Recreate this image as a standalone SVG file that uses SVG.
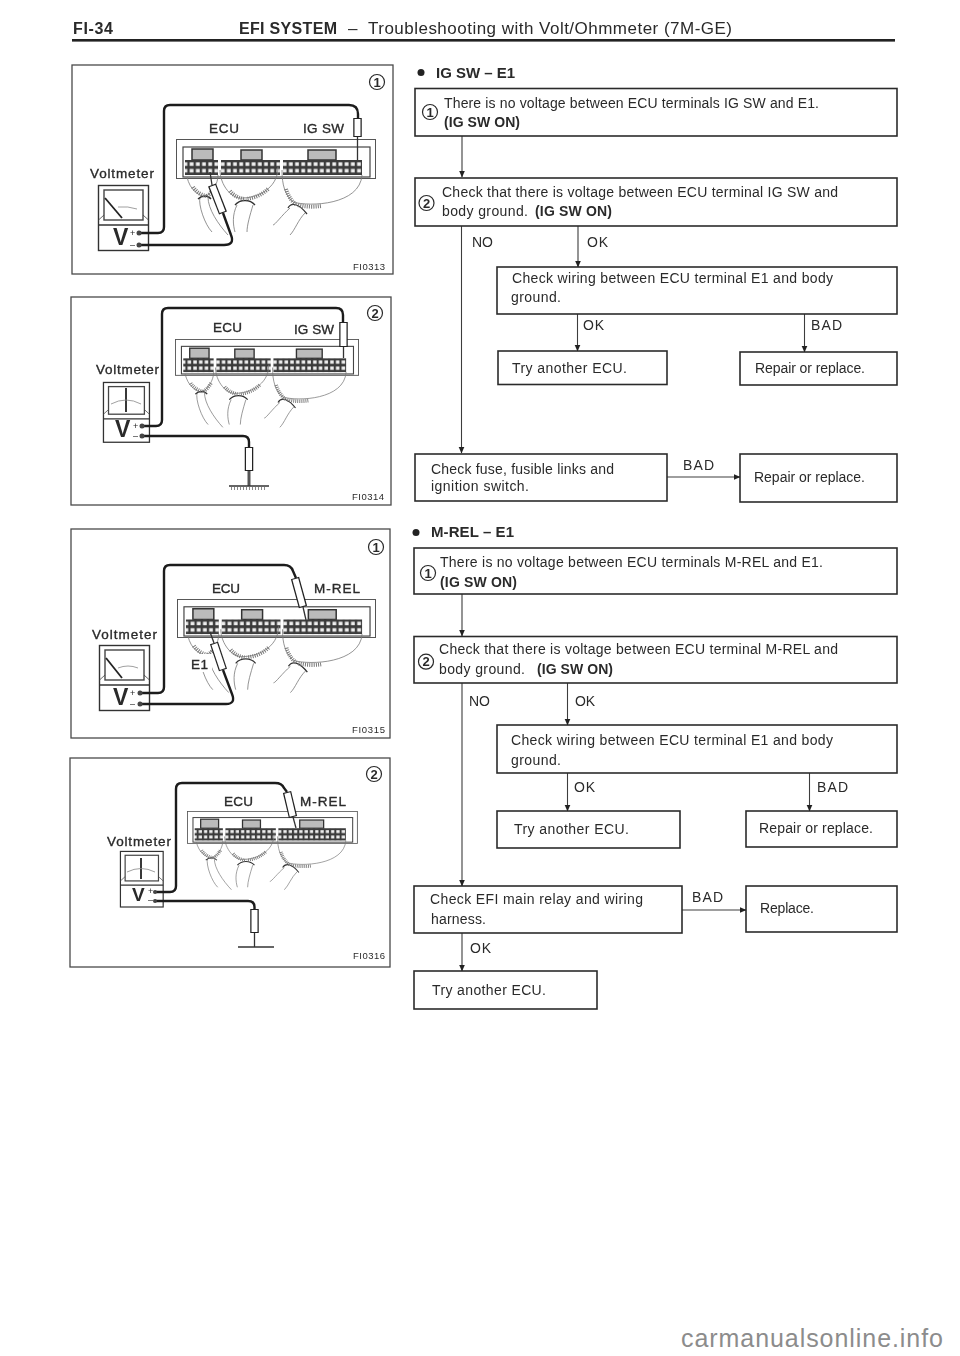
<svg xmlns="http://www.w3.org/2000/svg" xmlns:xlink="http://www.w3.org/1999/xlink" width="960" height="1356" viewBox="0 0 960 1356">
<style>
text{font-family:"Liberation Sans",Arial,sans-serif;fill:#2a2a2a}
.t{font-size:14px}
.b{font-size:14px;font-weight:bold}
.h{font-size:15px;font-weight:bold}
.hh{font-size:16px;font-weight:bold}
.hr{font-size:17px}
.l{font-size:13.5px;stroke:#2a2a2a;stroke-width:.35px}
.v{font-size:23px;font-weight:bold}
.c{font-size:9px}
.f{font-size:9.5px}
.d{font-size:13px;font-weight:bold;text-anchor:middle}
.box{fill:#fff;stroke:#2a2a2a;stroke-width:1.6}
.frame{fill:#fff;stroke:#4a4a4a;stroke-width:1.3}
.circ{fill:#fff;stroke:#2a2a2a;stroke-width:1.2}
.edge{fill:none;stroke:#3c3c3c;stroke-width:1.1;marker-end:url(#ah)}
.wire{fill:none;stroke:#1c1c1c;stroke-width:2.4}
.thin{fill:none;stroke:#333;stroke-width:1.3}
.po{fill:none;stroke:#222;stroke-width:8.5}
.pi{fill:none;stroke:#fff;stroke-width:6}
.hs{fill:none;stroke:#777;stroke-width:.8}
.fan{fill:none;stroke:#777;stroke-width:4;stroke-dasharray:1 1.2}
.gr{stroke:#333;stroke-width:1.3}
.gh{stroke:#888;stroke-width:3;stroke-dasharray:1 2}
</style>
<defs>
<filter id="soft" filterUnits="userSpaceOnUse" x="0" y="0" width="960" height="1356"><feGaussianBlur stdDeviation=".3"/></filter>
<marker id="ah" markerUnits="userSpaceOnUse" markerWidth="7" markerHeight="7" refX="6.500" refY="3" orient="auto"><path d="M0 0L7 3L0 6Z" fill="#222"/></marker>
<pattern id="pins" patternUnits="userSpaceOnUse" x="0" y="22" width="6.2" height="6.6"><rect width="6.2" height="6.6" fill="#3a3a3a"/><rect x="1.3" y="1.3" width="3.8" height="3.6" fill="#eee"/></pattern>
<g id="ecu">
<rect x=".5" y=".5" width="199" height="39" fill="#fff" stroke="#555" stroke-width="1"/>
<rect x="7" y="8" width="187" height="30" fill="#fff" stroke="#444" stroke-width="1.2"/>
<rect x="16" y="10" width="21" height="11" fill="#bbb" stroke="#333" stroke-width="1.5"/>
<rect x="65" y="11" width="21" height="10" fill="#bbb" stroke="#333" stroke-width="1.5"/>
<rect x="132" y="11" width="28" height="10" fill="#bbb" stroke="#333" stroke-width="1.5"/>
<rect x="9" y="21" width="33" height="15" fill="url(#pins)"/>
<rect x="45" y="21" width="59" height="15" fill="url(#pins)"/>
<rect x="107" y="21" width="79" height="15" fill="url(#pins)"/>
<path class="hs" d="M11 38C14 51 22 56 29 58M42 36C42 45 36 54 29 58M24 58C22 66 29 86 36 93M32 58C32 70 42 85 52 96"/>
<path class="hs" d="M44 31C44 46 56 61 67 59C79 59 102 51 102 28M61 66C56 76 57 86 59 93M77 66C74 76 71 86 71 93"/>
<path class="hs" d="M106 31C106 46 109 56 117 63C134 68 184 66 186 36M114 69C106 76 99 86 97 86M129 74C122 81 119 91 114 96"/>
<path class="thin" d="M22 60C26 56 32 56 35 60M59 66C64 60 74 60 79 66M112 69C116 62 124 66 131 75"/>
<path class="fan" d="M17 48C21 54 26 56 30 57M39 48C37 52 34 55 31 57M54 52C58 57 63 59 68 60M92 50C86 56 78 59 70 60M110 50C112 57 116 63 121 66M122 66C130 68 138 68 145 67"/>
</g>
<g id="vm">
<rect x=".5" y=".5" width="50" height="65" fill="#fff" stroke="#333" stroke-width="1.4"/>
<rect x="6" y="5" width="39" height="30" fill="#fff" stroke="#444" stroke-width="1.4"/>
<path d="M.5 35L6 30M50.5 35L45 30" stroke="#444" stroke-width=".8"/>
<path d="M.5 40H50.5" stroke="#333" stroke-width="1.4"/>
</g>
</defs>
<rect width="960" height="1356" fill="#fff"/>
<g filter="url(#soft)">

<g id="header">
<rect x="72" y="39" width="823" height="2.6" fill="#222"/>
<text class="hh" x="73" y="33.5" textLength="40">FI-34</text>
<text class="hh" x="239" y="34" textLength="98">EFI SYSTEM</text>
<text class="hr" x="348" y="34" textLength="10">–</text>
<text class="hr" x="368" y="34" textLength="364">Troubleshooting with Volt/Ohmmeter (7M-GE)</text>
</g>

<g id="panel-1">
<rect class="frame" x="72" y="65" width="321" height="209"/>
<circle class="circ" cx="377" cy="82" r="7.5"/><text class="d" x="377" y="86.700">1</text>
<use xlink:href="#ecu" href="#ecu" transform="translate(176 139)"/>
<use xlink:href="#vm" href="#vm" transform="translate(98 185)"/>
<path d="M105 198L122 218" stroke="#222" stroke-width="1.8"/>
<path d="M118 207Q128 206 137 209" fill="none" stroke="#888" stroke-width=".8"/>
<path class="wire" d="M139 233H158Q164 233 164 227V111Q164 105 170 105H349Q358 105 358 114V118"/>
<path class="thin" d="M357.500 137V160"/>
<path class="po" d="M357.500 118V137"/><path class="pi" d="M357.500 119V136"/>
<path class="wire" d="M139 245H224Q235 245 231 235L223 213"/>
<path class="thin" d="M212 185L210 172"/>
<path class="po" d="M223 213L212 185"/><path class="pi" d="M222.500 212L212.500 186"/>
<circle cx="139" cy="233" r="2.500" fill="#444"/><circle cx="139" cy="245" r="2.500" fill="#444"/>
<text class="l" x="90" y="178" textLength="64">Voltmeter</text>
<text class="l" x="209" y="133" textLength="30">ECU</text>
<text class="l" x="303" y="133" textLength="41">IG SW</text>
<text class="v" x="113" y="245" textLength="15">V</text>
<text class="c" x="130" y="236">+</text><text class="c" x="130" y="248">–</text>
<text class="f" x="353" y="270" textLength="32">FI0313</text>
</g>

<g id="panel-2">
<rect class="frame" x="71" y="297" width="320" height="208"/>
<circle class="circ" cx="375" cy="313" r="7.5"/><text class="d" x="375" y="317.700">2</text>
<use xlink:href="#ecu" href="#ecu" transform="translate(175 339) scale(.92)"/>
<use xlink:href="#vm" href="#vm" transform="translate(103 382) scale(.92)"/>
<path d="M126 388V412" stroke="#222" stroke-width="1.800"/>
<path d="M111 404Q126 396 141 404" fill="none" stroke="#888" stroke-width=".8"/>
<path class="wire" d="M142 426H156Q162 426 162 420V314Q162 308 168 308H336Q343 308 343 315V322"/>
<path class="thin" d="M343.500 347V358"/>
<path class="po" d="M343.500 322V347"/><path class="pi" d="M343.500 323V346"/>
<path class="wire" d="M142 436H243Q249 436 249 442V447"/>
<path d="M249 471V486" stroke="#555" stroke-width="3"/>
<path class="po" d="M249 447V471"/><path class="pi" d="M249 448V470"/>
<path class="gr" d="M229 486H269"/><path class="gh" d="M231 488.500H267"/>
<circle cx="142" cy="426" r="2.500" fill="#444"/><circle cx="142" cy="436" r="2.500" fill="#444"/>
<text class="l" x="96" y="374" textLength="63">Voltmeter</text>
<text class="l" x="213" y="332" textLength="29">ECU</text>
<text class="l" x="294" y="334" textLength="40">IG SW</text>
<text class="v" x="115" y="437" textLength="14">V</text>
<text class="c" x="133" y="429">+</text><text class="c" x="133" y="439">–</text>
<text class="f" x="352" y="500" textLength="32">FI0314</text>
</g>

<g id="panel-3">
<rect class="frame" x="71" y="529" width="319" height="209"/>
<circle class="circ" cx="376" cy="547" r="7.5"/><text class="d" x="376" y="551.700">1</text>
<use xlink:href="#ecu" href="#ecu" transform="translate(177 599) scale(.995 .975)"/>
<use xlink:href="#vm" href="#vm" transform="translate(99 645)"/>
<path d="M106 658L122 678" stroke="#222" stroke-width="1.800"/>
<path d="M118 668Q128 664 138 668" fill="none" stroke="#888" stroke-width=".8"/>
<rect x="188" y="654" width="24" height="18" fill="#fff"/>
<path class="wire" d="M140 693H158Q164 693 164 687V571Q164 565 170 565H284Q291 565 293 571L296 578"/>
<path class="thin" d="M303 607L306 620"/>
<path class="po" d="M295 578L303 607"/><path class="pi" d="M295.300 579L302.700 606"/>
<path class="wire" d="M140 704H226Q236 704 232 694L223 670"/>
<path class="thin" d="M214 643L210 632"/>
<path class="po" d="M223 670L214 643"/><path class="pi" d="M222.700 669L214.300 644"/>
<circle cx="140" cy="693" r="2.500" fill="#444"/><circle cx="140" cy="704" r="2.500" fill="#444"/>
<text class="l" x="92" y="639" textLength="65">Voltmeter</text>
<text class="l" x="212" y="593" textLength="28">ECU</text>
<text class="l" x="314" y="593" textLength="46">M-REL</text>
<text class="l" x="191" y="669" textLength="17">E1</text>
<text class="v" x="113" y="705" textLength="15">V</text>
<text class="c" x="130" y="696">+</text><text class="c" x="130" y="707">–</text>
<text class="f" x="352" y="733" textLength="33">FI0315</text>
</g>

<g id="panel-4">
<rect class="frame" x="70" y="758" width="320" height="209"/>
<circle class="circ" cx="374" cy="774" r="7.5"/><text class="d" x="374" y="778.700">2</text>
<use xlink:href="#ecu" href="#ecu" transform="translate(187 811) scale(.854 .82)"/>
<use xlink:href="#vm" href="#vm" transform="translate(120 851) scale(.855)"/>
<path d="M141 858V879" stroke="#222" stroke-width="1.800"/>
<path d="M127 872Q141 865 155 872" fill="none" stroke="#888" stroke-width=".8"/>
<path class="wire" d="M155 892H170Q176 892 176 886V789Q176 783 182 783H275Q282 783 284 788L287 792"/>
<path class="thin" d="M293 817L296 828"/>
<path class="po" d="M287 792L293 817"/><path class="pi" d="M287.300 793L292.700 816"/>
<path class="wire" d="M155 901H248Q254.500 901 254.500 907V909"/>
<path class="thin" d="M254.500 933V947"/>
<path class="po" d="M254.500 909V933"/><path class="pi" d="M254.500 910V932"/>
<path class="gr" d="M238 947H274"/>
<circle cx="155" cy="892" r="2" fill="#444"/><circle cx="155" cy="901" r="2" fill="#444"/>
<text class="l" x="107" y="846" textLength="64">Voltmeter</text>
<text class="l" x="224" y="806" textLength="29">ECU</text>
<text class="l" x="300" y="806" textLength="46">M-REL</text>
<text class="v" x="132" y="901" textLength="13" style="font-size:19px">V</text>
<text class="c" x="148" y="894">+</text><text class="c" x="148" y="903">–</text>
<text class="f" x="353" y="959" textLength="32">FI0316</text>
</g>

<g id="connectors">
<path class="edge" d="M462 136V177"/>
<path class="edge" d="M461.500 226V453"/>
<path class="edge" d="M578 226V267"/>
<path class="edge" d="M577.500 314V351"/>
<path class="edge" d="M804.500 314V352"/>
<path class="edge" d="M667 477H740"/>
<path class="edge" d="M462 594V636"/>
<path class="edge" d="M462 683V886"/>
<path class="edge" d="M567.500 683V725"/>
<path class="edge" d="M567.500 773V811"/>
<path class="edge" d="M809.500 773V811"/>
<path class="edge" d="M682 910H746"/>
<path class="edge" d="M462 933V971"/>
</g>

<g id="title-1">
<circle cx="421" cy="72.500" r="3.500" fill="#222"/>
<text class="h" x="436" y="77.500" textLength="79">IG SW – E1</text>
</g>
<g id="n1">
<rect class="box" x="415" y="88.500" width="482" height="47.500"/>
<circle class="circ" cx="430" cy="112" r="7.500"/><text class="d" x="430" y="116.700">1</text>
<text class="t" x="444" y="107.700" textLength="375">There is no voltage between ECU terminals IG SW and E1.</text>
<text class="b" x="444" y="127.300" textLength="76">(IG SW ON)</text>
</g>
<g id="n2">
<rect class="box" x="415" y="178" width="482" height="48"/>
<circle class="circ" cx="426.500" cy="203" r="7.500"/><text class="d" x="426.500" y="207.700">2</text>
<text class="t" x="442" y="197" textLength="396">Check that there is voltage between ECU terminal IG SW and</text>
<text class="t" x="442" y="215.700" textLength="86">body ground.</text>
<text class="b" x="535" y="215.700" textLength="77">(IG SW ON)</text>
</g>
<g id="lab1">
<text class="t" x="472" y="246.700" textLength="21">NO</text>
<text class="t" x="587" y="246.700" textLength="21">OK</text>
<text class="t" x="583" y="330" textLength="21">OK</text>
<text class="t" x="811" y="330" textLength="31">BAD</text>
<text class="t" x="683" y="470" textLength="31">BAD</text>
</g>
<g id="n3">
<rect class="box" x="497" y="267" width="400" height="47"/>
<text class="t" x="512" y="282.700" textLength="321">Check wiring between ECU terminal E1 and body</text>
<text class="t" x="511" y="301.700" textLength="50">ground.</text>
</g>
<g id="n4">
<rect class="box" x="498" y="351" width="169" height="33.500"/>
<text class="t" x="512" y="373" textLength="115">Try another ECU.</text>
</g>
<g id="n5">
<rect class="box" x="740" y="352" width="157" height="33"/>
<text class="t" x="755" y="372.700" textLength="110">Repair or replace.</text>
</g>
<g id="n6">
<rect class="box" x="415" y="454" width="252" height="47"/>
<text class="t" x="431" y="474" textLength="183">Check fuse, fusible links and</text>
<text class="t" x="431" y="490.700" textLength="98">ignition switch.</text>
</g>
<g id="n7">
<rect class="box" x="740" y="454" width="157" height="48"/>
<text class="t" x="754" y="481.700" textLength="111">Repair or replace.</text>
</g>

<g id="title-2">
<circle cx="416" cy="532.500" r="3.500" fill="#222"/>
<text class="h" x="431" y="537" textLength="83">M-REL – E1</text>
</g>
<g id="m1">
<rect class="box" x="414" y="548" width="483" height="46"/>
<circle class="circ" cx="428" cy="573" r="7.500"/><text class="d" x="428" y="577.700">1</text>
<text class="t" x="440" y="566.700" textLength="383">There is no voltage between ECU terminals M-REL and E1.</text>
<text class="b" x="440" y="586.700" textLength="77">(IG SW ON)</text>
</g>
<g id="m2">
<rect class="box" x="414" y="636.500" width="483" height="46.500"/>
<circle class="circ" cx="426" cy="661.700" r="7.500"/><text class="d" x="426" y="666.400">2</text>
<text class="t" x="439" y="654" textLength="399">Check that there is voltage between ECU terminal M-REL and</text>
<text class="t" x="439" y="674" textLength="86">body ground.</text>
<text class="b" x="537" y="674" textLength="76">(IG SW ON)</text>
</g>
<g id="lab2">
<text class="t" x="469" y="705.700" textLength="21">NO</text>
<text class="t" x="575" y="705.700" textLength="20">OK</text>
<text class="t" x="574" y="791.700" textLength="21">OK</text>
<text class="t" x="817" y="791.700" textLength="31">BAD</text>
<text class="t" x="692" y="902" textLength="31">BAD</text>
<text class="t" x="470" y="953" textLength="21">OK</text>
</g>
<g id="m3">
<rect class="box" x="497" y="725" width="400" height="48"/>
<text class="t" x="511" y="745" textLength="322">Check wiring between ECU terminal E1 and body</text>
<text class="t" x="511" y="765" textLength="50">ground.</text>
</g>
<g id="m4">
<rect class="box" x="497" y="811" width="183" height="37"/>
<text class="t" x="514" y="834" textLength="115">Try another ECU.</text>
</g>
<g id="m5">
<rect class="box" x="746" y="811" width="151" height="36"/>
<text class="t" x="759" y="833" textLength="114">Repair or replace.</text>
</g>
<g id="m6">
<rect class="box" x="414" y="886" width="268" height="47"/>
<text class="t" x="430" y="904" textLength="213">Check EFI main relay and wiring</text>
<text class="t" x="431" y="924" textLength="55">harness.</text>
</g>
<g id="m7">
<rect class="box" x="746" y="886" width="151" height="46"/>
<text class="t" x="760" y="912.700" textLength="54">Replace.</text>
</g>
<g id="m8">
<rect class="box" x="414" y="971" width="183" height="38"/>
<text class="t" x="432" y="995" textLength="114">Try another ECU.</text>
</g>
</g>
<text x="681" y="1346.500" font-size="25" style="fill:#8c8c8c" textLength="262">carmanualsonline.info</text>
</svg>
